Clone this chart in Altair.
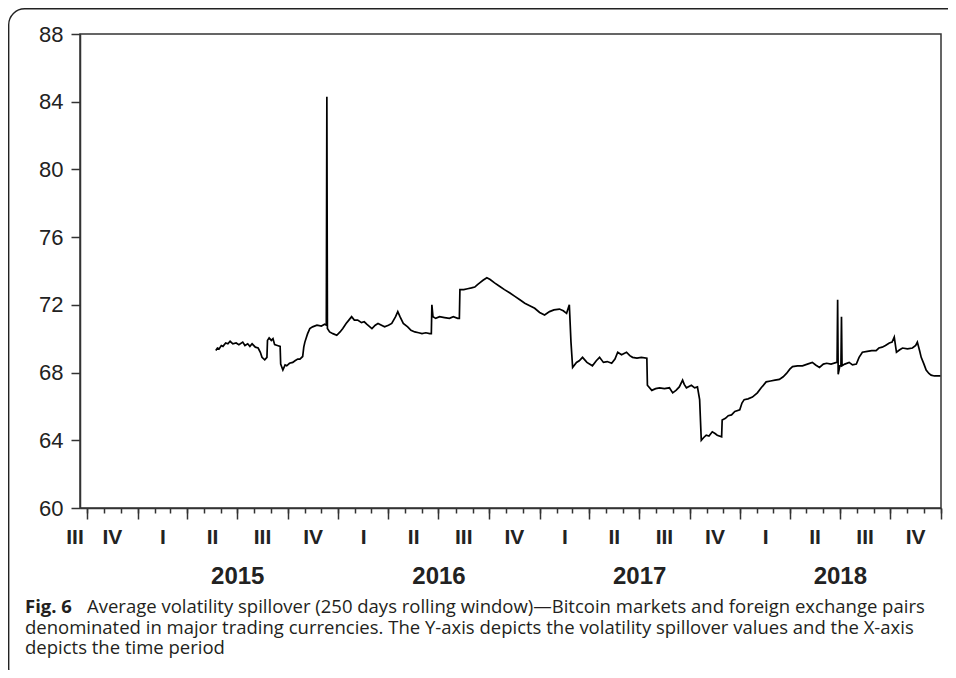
import altair as alt
import pandas as pd

dates = [
    "2015-05-23", "2015-05-26", "2015-05-29", "2015-06-02", "2015-06-05", "2015-06-10", "2015-06-14",
    "2015-06-18", "2015-06-23", "2015-06-29", "2015-07-04", "2015-07-11", "2015-07-15", "2015-07-20",
    "2015-07-24", "2015-07-28", "2015-08-03", "2015-08-08", "2015-08-12", "2015-08-15", "2015-08-20",
    "2015-08-24", "2015-08-25", "2015-08-28", "2015-09-01", "2015-09-04", "2015-09-07", "2015-09-12",
    "2015-09-17", "2015-09-18", "2015-09-22", "2015-09-26", "2015-09-29", "2015-10-04", "2015-10-10",
    "2015-10-14", "2015-10-19", "2015-10-23", "2015-10-28", "2015-10-30", "2015-11-01", "2015-11-04",
    "2015-11-06", "2015-11-10", "2015-11-15", "2015-11-23", "2015-12-01", "2015-12-07", "2015-12-10",
    "2015-12-11", "2015-12-12", "2015-12-16", "2015-12-22", "2015-12-29", "2016-01-04", "2016-01-09",
    "2016-01-15", "2016-01-20", "2016-01-25", "2016-01-30", "2016-02-05", "2016-02-12", "2016-02-17",
    "2016-02-22", "2016-03-02", "2016-03-08", "2016-03-13", "2016-03-25", "2016-04-01", "2016-04-07",
    "2016-04-14", "2016-04-18", "2016-04-22", "2016-04-28", "2016-05-06", "2016-05-12", "2016-05-19",
    "2016-05-26", "2016-06-01", "2016-06-08", "2016-06-15", "2016-06-18", "2016-06-19", "2016-06-21",
    "2016-06-26", "2016-07-03", "2016-07-12", "2016-07-21", "2016-07-28", "2016-08-05", "2016-08-08",
    "2016-08-09", "2016-08-16", "2016-08-23", "2016-08-30", "2016-09-05", "2016-09-10", "2016-09-14",
    "2016-09-20", "2016-09-27", "2016-10-03", "2016-10-11", "2016-10-20", "2016-10-29", "2016-11-08",
    "2016-11-17", "2016-11-26", "2016-12-05", "2016-12-14", "2016-12-23", "2017-01-01", "2017-01-10",
    "2017-01-19", "2017-01-27", "2017-02-06", "2017-02-13", "2017-02-19", "2017-02-24", "2017-02-27",
    "2017-03-02", "2017-03-09", "2017-03-14", "2017-03-20", "2017-03-28", "2017-04-07", "2017-04-14",
    "2017-04-20", "2017-04-27", "2017-05-04", "2017-05-12", "2017-05-18", "2017-05-23", "2017-05-30",
    "2017-06-08", "2017-06-14", "2017-06-19", "2017-06-27", "2017-07-05", "2017-07-15", "2017-07-16",
    "2017-07-24", "2017-07-31", "2017-08-07", "2017-08-16", "2017-08-25", "2017-08-31", "2017-09-06",
    "2017-09-12", "2017-09-18", "2017-09-21", "2017-09-25", "2017-10-04", "2017-10-10", "2017-10-15",
    "2017-10-19", "2017-10-22", "2017-10-26", "2017-10-31", "2017-11-05", "2017-11-11", "2017-11-16",
    "2017-11-20", "2017-11-28", "2017-11-29", "2017-12-05", "2017-12-10", "2017-12-16", "2017-12-22",
    "2017-12-31", "2018-01-04", "2018-01-08", "2018-01-15", "2018-01-23", "2018-02-01", "2018-02-08",
    "2018-02-17", "2018-02-25", "2018-03-05", "2018-03-13", "2018-03-20", "2018-03-26", "2018-04-01",
    "2018-04-06", "2018-04-15", "2018-04-24", "2018-05-03", "2018-05-12", "2018-05-18", "2018-05-25",
    "2018-06-01", "2018-06-07", "2018-06-15", "2018-06-25", "2018-06-26", "2018-06-27", "2018-06-28",
    "2018-07-01", "2018-07-03", "2018-07-04", "2018-07-05", "2018-07-10", "2018-07-18", "2018-07-24",
    "2018-07-31", "2018-08-05", "2018-08-11", "2018-08-20", "2018-08-28", "2018-09-05", "2018-09-10",
    "2018-09-16", "2018-09-22", "2018-09-29", "2018-10-04", "2018-10-08", "2018-10-12", "2018-10-18",
    "2018-10-23", "2018-11-01", "2018-11-10", "2018-11-16", "2018-11-19", "2018-11-23", "2018-11-26",
    "2018-12-01", "2018-12-05", "2018-12-10", "2018-12-14", "2018-12-20", "2018-12-31",
]

values = [
    69.3, 69.45, 69.4, 69.6, 69.55, 69.75, 69.7,
    69.85, 69.7, 69.75, 69.65, 69.8, 69.6, 69.7,
    69.55, 69.7, 69.5, 69.45, 69.2, 68.9, 68.75,
    68.9, 69.9, 70.05, 69.9, 70.0, 69.65, 69.6,
    69.55, 68.5, 68.15, 68.45, 68.4, 68.55, 68.6,
    68.7, 68.8, 68.8, 68.95, 69.5, 69.8, 70.1,
    70.3, 70.6, 70.7, 70.8, 70.75, 70.85, 70.8,
    84.3, 70.6, 70.4, 70.3, 70.2, 70.4, 70.6,
    70.9, 71.1, 71.3, 71.1, 71.1, 70.95, 71.0,
    70.85, 70.6, 70.8, 70.9, 70.7, 70.8, 70.9,
    71.3, 71.6, 71.3, 70.9, 70.7, 70.5, 70.4,
    70.35, 70.3, 70.35, 70.3, 70.3, 72.0, 71.3,
    71.2, 71.3, 71.25, 71.2, 71.3, 71.2, 71.2,
    72.9, 72.9, 72.95, 73.0, 73.05, 73.2, 73.3,
    73.45, 73.6, 73.5, 73.3, 73.1, 72.9, 72.7,
    72.5, 72.3, 72.1, 71.95, 71.8, 71.55, 71.4,
    71.6, 71.7, 71.75, 71.65, 71.5, 72.0, 69.8,
    68.3, 68.6, 68.7, 68.9, 68.6, 68.4, 68.7,
    68.9, 68.6, 68.65, 68.55, 68.8, 69.2, 69.05,
    69.2, 69.0, 68.9, 68.85, 68.9, 68.85, 67.25,
    66.95, 67.05, 67.1, 67.05, 67.1, 66.8, 66.95,
    67.15, 67.55, 67.3, 67.1, 67.25, 67.1, 67.15,
    66.4, 64.0, 64.15, 64.3, 64.25, 64.5, 64.4,
    64.3, 64.2, 65.2, 65.3, 65.45, 65.5, 65.7,
    65.8, 66.2, 66.4, 66.45, 66.55, 66.8, 67.1,
    67.45, 67.5, 67.55, 67.6, 67.75, 67.95, 68.2,
    68.35, 68.4, 68.4, 68.5, 68.6, 68.45, 68.3,
    68.5, 68.55, 68.5, 68.6, 68.6, 72.3, 67.9,
    68.4, 68.4, 71.3, 68.4, 68.5, 68.6, 68.45,
    68.5, 68.9, 69.2, 69.25, 69.3, 69.3, 69.45,
    69.5, 69.6, 69.75, 69.8, 70.1, 69.2, 69.35,
    69.45, 69.4, 69.45, 69.6, 69.8, 69.3, 68.9,
    68.5, 68.15, 67.95, 67.85, 67.8, 67.8,
]

y_ticks = [60, 64, 68, 72, 76, 80, 84, 88]
roman = ["I", "II", "III", "IV"]
years = [2015, 2016, 2017, 2018]
caption_bold = "Fig. 6"
caption_lines = [
    "Average volatility spillover (250 days rolling window)\u2014Bitcoin markets and foreign exchange pairs",
    "denominated in major trading currencies. The Y-axis depicts the volatility spillover values and the X-axis",
    "depicts the time period",
]

def ms(s):
    return int(pd.Timestamp(s).value // 10**6)

x_domain = [ms("2014-09-18"), ms("2019-01-01")]
month_ticks = [ms(d) for d in pd.date_range("2014-10-01", "2019-01-01", freq="MS")]
quarter_ticks = [ms(d) for d in pd.date_range("2014-10-01", "2019-01-01", freq="QS")]
first_q = ms("2014-09-24")
roman_pos = [first_q] + [ms(d + pd.Timedelta(days=45)) for d in pd.date_range("2014-10-01", "2018-10-01", freq="QS")]
year_pos = [ms(f"{y}-07-01") for y in years]

df = pd.DataFrame({"date": dates, "value": values})

AX_FONT = "Liberation Sans, Arial, sans-serif"
CAP_FONT = "Open Sans, sans-serif"
CAP_SIZE = 18.5
DARK = "#333333"

xscale = alt.Scale(type="utc", domain=x_domain)
yscale = alt.Scale(domain=[60, 88], nice=False, zero=False)

line = alt.Chart(df).mark_line(color="black", strokeWidth=1.7).encode(
    x=alt.X("date:T", scale=xscale, title=None,
            axis=alt.Axis(orient="bottom", values=month_ticks, labels=False, tickSize=5,
                          tickWidth=1.5, tickColor=DARK, domainColor=DARK, domainWidth=1.5, grid=False)),
    y=alt.Y("value:Q", scale=yscale, title=None,
            axis=alt.Axis(values=y_ticks, tickSize=9, tickWidth=1.5, tickColor=DARK,
                          domainColor=DARK, domainWidth=1.5, grid=False, labelFont=AX_FONT,
                          labelFontSize=22, labelColor="#222222", labelPadding=8)),
)

def xaxis_layer(axis):
    return alt.Chart(df).mark_point(opacity=0).encode(
        x=alt.X("date:T", scale=xscale, title=None, axis=axis)
    )

qticks = xaxis_layer(alt.Axis(orient="bottom", values=quarter_ticks, labels=False, tickSize=11,
                              tickWidth=1.5, tickColor=DARK, domain=False, grid=False))
qlabels = xaxis_layer(alt.Axis(orient="bottom", values=roman_pos, ticks=False, tickSize=0, domain=False,
                               grid=False, labelFlush=False, labelOverlap=False, labelBound=False,
                               labelAlign={"condition": {"test": f"datum.value <= {first_q}", "value": "right"},
                                           "value": "center"},
                               labelExpr="['" + "','".join(roman) + "'][floor(utcmonth(datum.value)/3)]",
                               labelFont=AX_FONT, labelFontWeight="bold", labelFontSize=21,
                               labelColor="#222222", labelBaseline="middle", labelPadding=29))
ylabels = xaxis_layer(alt.Axis(orient="bottom", values=year_pos, ticks=False, tickSize=0, domain=False,
                               grid=False, labelFlush=False, labelOverlap=False,
                               labelExpr="'' + utcyear(datum.value)",
                               labelFont=AX_FONT, labelFontWeight="bold", labelFontSize=24,
                               labelColor="#222222", labelBaseline="middle", labelPadding=68))

one = alt.Data(values=[{"k": 1}])

frame = alt.Chart(one).mark_rect(fill="white", fillOpacity=0, stroke="#222222", strokeWidth=1.4,
                                 cornerRadius=16).encode(
    x=alt.value(-71.3), x2=alt.value(950), y=alt.value(-25.3), y2=alt.value(650)
)

def cap_text(txt, x, y, weight="normal"):
    return alt.Chart(one).mark_text(text=txt, font=CAP_FONT, fontWeight=weight, fontSize=CAP_SIZE,
                                    align="left", baseline="alphabetic", color="#231f20").encode(
        x=alt.value(x), y=alt.value(y)
    )

cap_b = cap_text(caption_bold, -55, 579, "bold")
cap1 = cap_text(caption_lines[0], 7, 579)
cap2 = cap_text(caption_lines[1], -55, 599.5)
cap3 = cap_text(caption_lines[2], -55, 620)

chart = alt.layer(frame, line, qticks, qlabels, ylabels, cap_b, cap1, cap2, cap3).resolve_axis(
    x="independent"
).properties(
    width=861, height=474, autosize="none",
    padding={"left": 72, "top": 26, "right": 7, "bottom": 162},
    background="white",
).configure_view(stroke=DARK, strokeWidth=1.5)

chart.save("out.html", embed_options={"renderer": "svg", "actions": False})
